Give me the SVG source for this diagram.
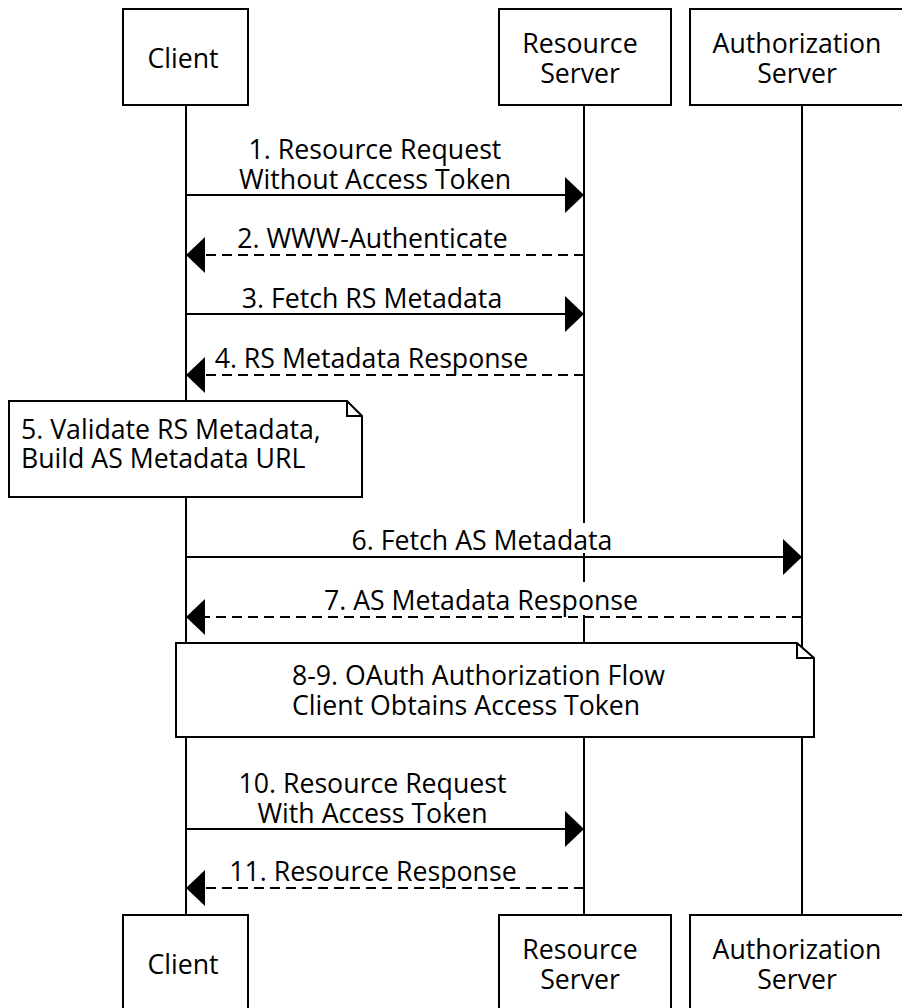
<svg xmlns="http://www.w3.org/2000/svg" width="902" height="1008" viewBox="0 0 902 1008">
<defs>
<style>
.box{fill:#fff;stroke:#000;stroke-width:2}
.life{stroke:#000;stroke-width:2;fill:none}
.msg{stroke:#000;stroke-width:2;fill:none}
.dash{stroke-dasharray:10,6}
.note{fill:#fff;stroke:#000;stroke-width:2;stroke-linejoin:miter}
.fold{fill:none;stroke:#000;stroke-width:2}
text{font-family:"Open Sans","Noto Sans",sans-serif;font-size:26.7px;fill:#000}
.c{text-anchor:middle}
</style>
<marker id="ah" markerUnits="userSpaceOnUse" viewBox="0 0 19 36" markerWidth="19" markerHeight="36" refX="11" refY="18" orient="auto">
<path d="M0,0 L19,18 L0,36 Z" fill="#000"/>
</marker>
</defs>
<rect width="902" height="1008" fill="#fff"/>

<g id="lifelines">
<line class="life" x1="186" y1="105" x2="186" y2="915"/>
<line class="life" x1="584" y1="105" x2="584" y2="523"/>
<line class="life" x1="584" y1="553" x2="584" y2="582"/>
<line class="life" x1="584" y1="615" x2="584" y2="915"/>
<line class="life" x1="802" y1="105" x2="802" y2="915"/>
</g>

<g id="participant-client-top">
<rect class="box" x="123" y="9" width="125" height="96"/>
<text class="c" x="183" y="68">Client</text>
</g>
<g id="participant-rs-top">
<rect class="box" x="499" y="9" width="172" height="96"/>
<text class="c" x="580" y="53">Resource</text>
<text class="c" x="580" y="83">Server</text>
</g>
<g id="participant-as-top">
<rect class="box" x="690" y="9" width="230" height="96"/>
<text class="c" x="797" y="53">Authorization</text>
<text class="c" x="797" y="83">Server</text>
</g>

<g id="connectors">
<line class="msg" x1="186" y1="195" x2="576" y2="195" marker-end="url(#ah)"/>
<line class="msg dash" x1="584" y1="255" x2="194" y2="255" marker-end="url(#ah)"/>
<line class="msg" x1="186" y1="314" x2="576" y2="314" marker-end="url(#ah)"/>
<line class="msg dash" x1="584" y1="375" x2="194" y2="375" marker-end="url(#ah)"/>
<line class="msg" x1="186" y1="557" x2="794" y2="557" marker-end="url(#ah)"/>
<line class="msg dash" x1="802" y1="617" x2="194" y2="617" marker-end="url(#ah)"/>
<line class="msg" x1="186" y1="829" x2="576" y2="829" marker-end="url(#ah)"/>
<line class="msg dash" x1="584" y1="888" x2="194" y2="888" marker-end="url(#ah)"/>
</g>

<g id="labels">
<text class="c" x="375" y="159">1. Resource Request</text>
<text class="c" x="375" y="189">Without Access Token</text>
<text class="c" x="372.5" y="248">2. WWW-Authenticate</text>
<text class="c" x="372" y="308">3. Fetch RS Metadata</text>
<text class="c" x="371.5" y="368">4. RS Metadata Response</text>
<text class="c" x="482" y="550">6. Fetch AS Metadata</text>
<text class="c" x="481" y="610">7. AS Metadata Response</text>
<text class="c" x="372.5" y="793">10. Resource Request</text>
<text class="c" x="372.5" y="823">With Access Token</text>
<text class="c" x="373" y="881">11. Resource Response</text>
</g>

<g id="note-5">
<path class="note" d="M9,401 H347 L362,416 V497 H9 Z"/>
<path class="fold" d="M347,401 V416 H362"/>
<text x="21" y="439">5. Validate RS Metadata,</text>
<text x="21" y="468">Build AS Metadata URL</text>
</g>

<g id="note-8-9">
<path class="note" d="M176,643 H797 L814,658 V737 H176 Z"/>
<path class="fold" d="M797,643 V658 H814"/>
<text x="292" y="685">8-9. OAuth Authorization Flow</text>
<text x="292" y="715">Client Obtains Access Token</text>
</g>

<g id="participant-client-bottom">
<rect class="box" x="123" y="915" width="125" height="96"/>
<text class="c" x="183" y="974">Client</text>
</g>
<g id="participant-rs-bottom">
<rect class="box" x="499" y="915" width="172" height="96"/>
<text class="c" x="580" y="959">Resource</text>
<text class="c" x="580" y="989">Server</text>
</g>
<g id="participant-as-bottom">
<rect class="box" x="690" y="915" width="230" height="96"/>
<text class="c" x="797" y="959">Authorization</text>
<text class="c" x="797" y="989">Server</text>
</g>
</svg>
